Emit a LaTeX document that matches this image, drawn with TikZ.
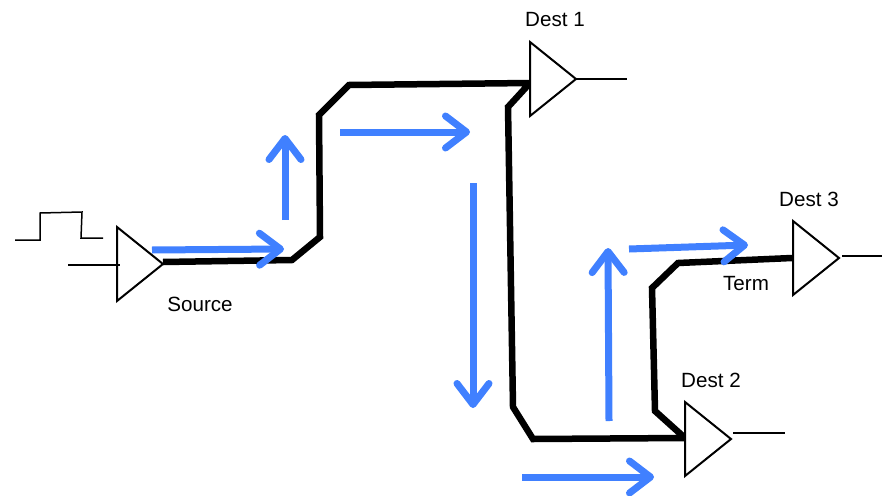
\documentclass[tikz,border=0pt]{standalone}
\usepackage{fontspec}
\setmainfont{Liberation Sans}
\usetikzlibrary{arrows.meta,shapes.geometric}
\definecolor{flow}{RGB}{64,128,255}
\tikzset{
  buf/.style={draw=black,line width=2pt,fill=white,isosceles triangle,isosceles triangle stretches,
    shape border rotate=0,minimum width=74pt,minimum height=46pt,inner sep=0pt,outer sep=0pt,anchor=apex},
  trace/.style={draw=black,line width=6.5pt,line join=miter},
  wire/.style={draw=black,line width=1.5pt},
  flowarrow/.style={draw=flow,line width=7pt,-{Straight Barb[length=21pt,width=32pt,line cap=round,round]}},
  lbl/.style={font=\fontsize{20.6}{24}\selectfont,inner sep=0pt,text=black}
}
\begin{document}
\begin{tikzpicture}[x=1pt,y=-1pt]
\useasboundingbox (0,0) rectangle (882,495);
% junction coordinates
\coordinate (j1) at (292,260);
\coordinate (j2) at (320,237);
\coordinate (j3) at (319,115);
\coordinate (j4) at (349,85);
\coordinate (n1) at (530,83);
\coordinate (k1) at (508,107);
\coordinate (k2) at (513,407);
\coordinate (k3) at (533,439);
\coordinate (n2) at (685,438);
\coordinate (m1) at (655,411);
\coordinate (m2) at (652,288);
\coordinate (m3) at (678,263);
\coordinate (n3) at (792,258);
\coordinate (inL) at (68,265);
\coordinate (inR) at (120,265);
\coordinate (o1) at (627,79);
\coordinate (o2a) at (733,433);
\coordinate (o2) at (785,433);
\coordinate (o3a) at (842,256);
\coordinate (o3) at (882,256);
\coordinate (p0) at (15,240);
\coordinate (p1) at (40,240);
\coordinate (p2) at (40,213);
\coordinate (p3) at (82,212);
\coordinate (p4) at (81,238);
\coordinate (p5) at (103,238);
% traces under buffers
\draw[trace] (163,262) -- (j1) -- (j2) -- (j3) -- (j4) -- (n1) -- (k1) -- (k2) -- (k3) -- (n2) -- (m1) -- (m2) -- (m3) -- (n3);
% buffers
\node[buf] (src) at (163,264) {};
\node[buf] (d1) at (576,79) {};
\node[buf] (d2) at (731,439) {};
\node[buf] (d3) at (839,258) {};
\draw[wire] (inL) -- (inR);
\draw[wire] (d1.apex) -- (o1);
\draw[wire] (o2a) -- (o2);
\draw[wire] (o3a) -- (o3);
\draw[wire] (p0) -- (p1) -- (p2) -- (p3) -- (p4) -- (p5);
% flow arrows
\coordinate (a1s) at (152,250); \coordinate (a1e) at (284,249);
\coordinate (a2s) at (285,220); \coordinate (a2e) at (285,135);
\coordinate (a3s) at (340,132); \coordinate (a3e) at (470,132);
\coordinate (a4s) at (473,183); \coordinate (a4e) at (473,408);
\coordinate (a5s) at (522,477); \coordinate (a5e) at (654,477);
\coordinate (a6s) at (609,421); \coordinate (a6e) at (608,248);
\coordinate (a7s) at (629,249); \coordinate (a7e) at (748,245);
\draw[flowarrow] (a1s) -- (a1e);
\draw[flowarrow] (a2s) -- (a2e);
\draw[flowarrow] (a3s) -- (a3e);
\draw[flowarrow] (a4s) -- (a4e);
\draw[flowarrow] (a5s) -- (a5e);
\draw[flowarrow] (a6s) -- (a6e);
\draw[flowarrow] (a7s) -- (a7e);
% labels
\node[lbl] (tsrc) at (200,304) {Source};
\node[lbl] (t1) at (555,20) {Dest 1};
\node[lbl] (t2) at (711,380) {Dest 2};
\node[lbl] (t3) at (809,199) {Dest 3};
\node[lbl] (tt) at (746,284) {Term};
\end{tikzpicture}
\end{document}
